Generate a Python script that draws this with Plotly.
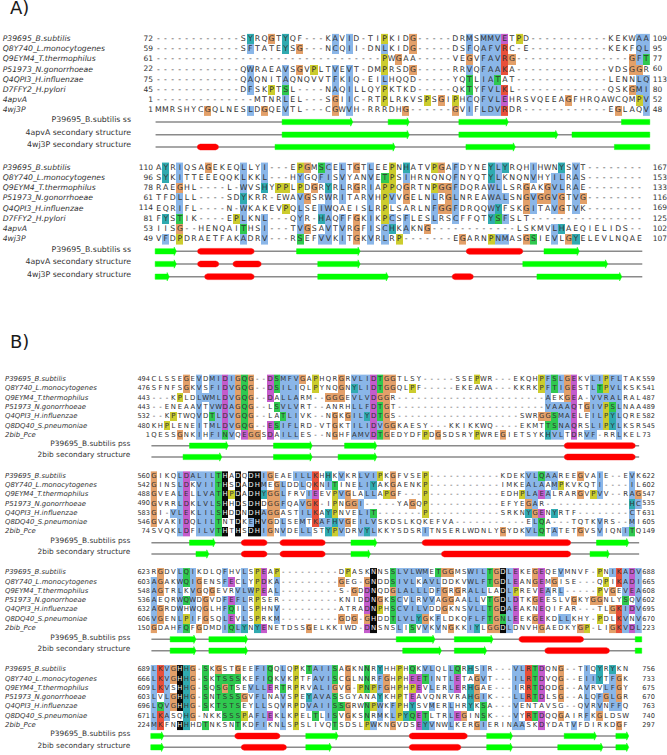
import re
import numpy as np
import plotly.graph_objects as go

G = "-"
NAMES_A = ["P39695_B.subtilis", "Q8Y740_L.monocytogenes", "Q9EYM4_T.thermophilus", "P51973_N.gonorrhoeae",
           "Q4QPI3_H.influenzae", "D7FFY2_H.pylori", "4apvA", "4wj3P"]
NAMES_B = ["P39695_B.subtilis", "Q8Y740_L.monocytogenes", "Q9EYM4_T.thermophilus", "P51973_N.gonorrhoeae",
           "Q4QPI3_H.influenzae", "Q8DQ40_S.pneumoniae", "2bib_Pce"]
SS_NAMES_A = ["P39695_B.subtilis ss", "4apvA secondary structure", "4wj3P secondary structure"]
SS_NAMES_B = ["P39695_B.subtilis pss", "2bib secondary structure"]

# ---------- aligned sequences ----------
A1_SEQ = [
    G*12 + "SYRQGTYQF---KAVID-TIPKIDG-----DRMSMMVETPD" + G*11 + "KEKWAA",
    G*12 + "SFTATEYSG---NCQII-DNLKIDG-----DSFQAFVRC-E" + G*11 + "KEKFQL",
    G*32 + "PWGAA-----VEGVFAVRG" + G*16 + "GFT",
    G*12 + "QWRAEAVSGVPLTVEVT-DMPRSDG-----RRVQFAAKA" + G*13 + "VDSGGR",
    G*12 + "QAQNITAQNQVVTFKIQ-EILHQQD-----YQTLIATAT" + G*13 + "LENNLQ",
    G*12 + "DFSKPTSL----NAQILLQYPKTKD-----QKTYFVLKL" + G*13 + "QSKGMI",
    G*14 + "MTNRLEL---SGIIC-RTPLRKVSPSGIPHCQFVLEHRSVQEEAGFHRQAWCQMPV",
    "MMRSHYCGQLNESLDGQEVTL---CGWVH-RRRDHG------GVIFLDVRDR" + G*12 + "EGLAQV",
]
A2_SEQ = [
    "AYRIQSAGEKEQLLYI---EPGMSCELTGTLEEPNHATVPGAFDYNEYLYRQHIHWNYSVT" + G*8,
    "SYKITTEEEQQKLKKL---HYGQFISVYANVETPSIHRNQNQFNYQTYLKNQNVHYILRAS" + G*8,
    "RAEGHL----L-WVSHYPPLPDGRYRLRGRIAPPQGRTNPGGFDQRAWLLSRGAKGVLRAE" + G*8,
    "TFDLLL----SDYKRR-EWAVGSRWRITARVHPVVGELNLRGLNREAWALSNGVGGVGTVG" + G*8,
    "EQRIFL----N-WKAKEVPQLSEIWQAEISLRPLSARLNFGGFDRQQWYFSKGITAVGTVK" + G*8,
    "FYSTIK----EPLKNL---QYR-HAQFFGKIKPCSFLESLRSCFFQTYSFSLT" + G*16,
    "IISG--HENQAITHSI---TVGSAVTVRGFISCHKAKNG" + G*12 + "LSKMVLHAEQIELIDS--",
    "VFDPDRAETFAKADRV---RSEFVVKITGKVRLRP-------EGARNPNMASGSIEVLGYELEVLNQAE",
]
B1_SEQ = [
    "CLSSEGEVDMIDIGQG--DSMFVGAPHQRGRVLIDTGGTLSY-----SSEPWR---EKQHPFSLGEKVLIPFLTAK",
    "SFNFSGKVSFIDVGQG--DSILIQLPYNQGNYLIDTGGQLPF-----EKEAWA---KKRKPFTIGESTLTPVLKSK",
    "---KPLDLWMLDVGQG--DALLARM--GGGEVLVDGGR" + G*23 + "AEKGEA-VVRALRAL",
    "--ENEAAVTVWDAGQG--LSVLVRT--ANRHLLFDTGT" + G*23 + "VAAAQTGIVPSLNAA",
    "--KPTWQVDTLDVGQG--LATLIVK--NGKGILYDTGS" + G*19 + "SWRGGSMAELEILPYLQRE",
    "KHPLENEITMLDVGQG--ESIFLRD-VTGKTILIDVGGKAESY---KKIKKWQ----EKMTTSNAQRSLIPYLKSR",
    "QESSGNKIHFINVQEGGSDAILLES--NGHFAMVDTGEDYDFPDGSDSRYPWREGIETSYKHVLTDRVF-RRLKEL",
]
B2_SEQ = [
    "GIKQLDALILTHADQDHIGEAEILLKHHKVKRLVIPKGFVSEP" + G*11 + "KDEKVLQAAREEGVAIE--EVK",
    "GINSLDKVIITHSDADHMEGLDDLQKNITINELIYAKGAENKP" + G*11 + "IMKEALAAMPKVKQTI----IL",
    "GVEALELLVATHPDADHYGGLFRVIEEVPVGLALLAPGF---P" + G*11 + "EDHPLAEALRARGVPVV--RAG",
    "GVRRLDKLVLSHHDSDHDGGFQAVGK-IPNGGI-----YAGQP" + G*11 + "EFYEGAR" + G*13 + "HC",
    "GI-VLEKLILSHDDNDHAGGASTILKAYPNVELIT-------P" + G*11 + "SRKNYGENYRTF" + G*8 + "CT",
    "GVAKIDQLILTNTDKEHVGDLSEMTKAFHVGEILVSKDSLKQKEFVA" + G*11 + "ELQA---TQTKVRS--MI",
    "SVQKLDFILVTHTHSDHIGNVDELLSTYPVDRVYLKKYSDSRITNSERLWDNLYGYDKVLQTATETGVSVIQNITQ",
]
B3_SEQ = [
    "RGDVLQIKDLQFHVLSPEAP" + G*9 + "DPASKNNSSLVLWMETGGMSWILTGDLEKEGEQEVMNVF-PNIKADV",
    "AGAKWQIGENSFECLYPDKA" + G*9 + "GEG-GNDDSIVLKAVLDDKVWLFTGDLEANGEMGISE---QPIKADI",
    "AGTRLKVGQGEVRVLWPEAL" + G*9 + "S-GDDNQDGLALLLDFGRGRALLLADLPREVEARL-----PVGEVEA",
    "AEQRWQWDGVDFEFLRPSER" + G*9 + "KNIDDNGKSCVLRVVAGGAALLVTGDLDTKGEESLVGKYGGNLYSQV",
    "AGRDWHWQGLHFQILSPHNV" + G*9 + "ATRADNPHSCVILVDDGKNSVLLTGDAEAKNEQIFAR---TLGKIDV",
    "VGENLPIFGSQLEVLSPRKM" + G*9 + "GDG-GHDDTLVLYGKFLDKQFLFTGNLEEKGEKDLLKHY-PDLKVNV",
    "GDAHFQFGDMDIQLYNYENETDSSGELKKIWD-DNSNSLISVVKVNGKKIYLGGDLDNVHGAEDKYGP-LIGKVDL",
]
B4_SEQ = [
    "LKVGHHG-SKGSTGEEFIQQLQPKTAIISAGKNNRYHHPHQKVLQLLQRHSIR---VLRTDQNG--TIQYRYKN",
    "LKVGHHG-SKTSSSKEFIQKVKPTFAVISCGLNNRFGHPHEETINTLETAGVT---ILRTDVQG--EIIYTFGK",
    "LKVSHHG-SQSGTSEVLLERTRPRVALIGVG-PNPFGHPHPEVLERLERHGAE---IRRTDQDG--AVRVLFGY",
    "LVLGHHG-SNTSSSGVFLNAVSPEYAVASSGYANAYKHPTEAVQNRVRAHGIK---LLRTDLSG--ALQFGLGR",
    "LQVGHHG-SKTSTSEYLLSQVRPDVAIISSGRWNPWKFPHYSVMERLHRYKSA---VENTAVSG--QVRVNFFQ",
    "LKASQHG-NKKSSSPAFLEKLKPELTLISVGKSNRMKLPYQETLTRLEGINSK---VYRTDQQGAIRFKGLDSW",
    "MKFNHHHDTNKSNTKDFIKNLSPSLIVQTSDSLPWKNGVDSEYVNWLKERGIERINAASKDYDATVFDIRKDGF",
]

# ---------- residue numbers ----------
A1_START = [72, 59, 61, 22, 75, 45, 1, 1];          A1_END = [109, 95, 77, 60, 113, 80, 52, 48]
A2_START = [110, 96, 78, 61, 114, 81, 53, 49];      A2_END = [167, 153, 133, 116, 169, 125, 102, 107]
B1_START = [494, 476, 443, 443, 532, 480, 1];       B1_END = [559, 541, 487, 489, 582, 545, 73]
B2_START = [560, 542, 488, 490, 583, 546, 74];      B2_END = [622, 602, 547, 535, 631, 605, 149]
B3_START = [623, 603, 548, 536, 632, 606, 150];     B3_END = [688, 665, 608, 602, 695, 670, 223]
B4_START = [689, 666, 609, 603, 696, 671, 224];     B4_END = [756, 733, 675, 670, 763, 740, 297]

# ---------- conservation class of residues, by alignment column ----------
A1_CLASS = [
    "c13 o16 c18 b25 b27 y32 o36 b44 b46-48 m49 y51 b68-69",
    "b13 c18 o20 b25 b27 b32 o36 b44 b46-48 r49 b68-69",
    "y32 o34 o44 b46-48 r49 o50 o67 b68 g69",
    "b13 b18 o20 y22 b25 b27 y32 o36 b44 b46-48 r49 o67-68",
    "b13 b18 b25 b27 b32 g44 b46-47 g48 b68-69",
    "b13 y16 g18 b25 b27 y32 g44 b46-48 r49 o67 b68-69",
    "b18 o25 b27 y32 y38 o40 y42 b44 b46-48 m49 o58 y68 b69",
    "o7 b13 o15 b18 o25 b27 o35 o42 b44 b46-48 r49 o65 b69",
]
A2_CLASS = [
    "c1 b3 o7 b12 b15 y20 o21 g23 b24 b26 o28 b30 y33 c35 y39 o40 b42 c47 b48 c49 b53 c57 b59",
    "c1 b3 b12 b15 b20 b23-24 b26 b30 g32 y33 b35 b42 c47 b48 b53 b56-57 b59",
    "o3 b12 c15 y17-18 y20 o22 c24 b26 o28 b30 y32-33 o35 y39 o40-41 b42 b47-48 o52 o55 b56-57 b59",
    "b3 c12 b20 o21 b24 b26 b30 y32 b33 o35 b39 o41 b42 b47-49 o52 b53 o54-55 b56 o57 b59 o60",
    "b3 b12 y18 b20 b23-24 b30 y32 b39 o40-41 b42 b47 c48 o52 b53 b56 o57 b59",
    "c1 g3 y11 b12 b15 b20 c23 b24 b26 o28 b30 y32 b33 b35 b39 b42 c47 g48 b49",
    "o3 g12 b15 b20 o21 b24 b26 o28 b30 b32 c33 b35 o38 b56 c57",
    "b1 y3 b12 b15 g20 b23-24 b26 o28 b30 b32 y34 o43 y47 b48-49 o52 g53 b56 o58 c59",
]
B1_CLASS = [
    "o5 b7 b9-10 m11 b12 o13 g14 o15 m18 g19 b20-22 o23 y25 o29 b31-33 m34 g35 o36-37 y50 y60 b61 g62 b63 o64 m65 b68-69 y70 b71-72",
    "o5 b7 b9-10 m11 b12 o13 g14 o15 m18 g19 b20-22 y25 o29 c31 b32-33 m34 g35 o36-37 y40 y60 b61 g62 b63 o64 m65 b68 g69 y70 b71-72",
    "y4 b7-10 m11 b12 o13 g14 o15 m18 b20-22 o27-29 b31-33 m34 o35-36 b61 o64 m65 b68-72",
    "b7 b9-10 m11 b12 o13 g14 o15 g19 b20-22 b31-33 m34 g35 o36 b61-64 m65 o67 b68-69 y70 g71 b72",
    "y3 b7 g9 b10 m11 b12 o13 g14 o15 g20 b21-22 o28 o30 b31-32 c33 m34 g35 o36 o60-61 g62 b63-64 m65 b68-69 y70 c71 b72",
    "y2 b7 b9-10 m11 b12 o13 g14 o15 m18 g19 b20-22 o28 b31-33 m34 b35 o36-37 g61-62 b63-64 m65 b68-69 y70 c71 b72",
    "o4 b7 b9-10 g11 b12 m14 o15-16 m18 b20-22 o28 b31-33 m34 g35 o36 y42 o44 y50 o54 c61 b62-63 m65 b67-68 b72",
]
B2_CLASS = [
    "o0 b4 m5 b6-9 g10 k11 k13 k15-16 b17 o18 b22-24 r25 c27 b29 b32-34 y35 o37 y42 b58-59 g60 b61-62 o66 b69 b74",
    "o0 b4 m5 b7-9 g10 k11 k13 k15-16 b17 o19 b20 b23 r25 b27 g28 b32-33 c34 o37 y42 b58-59 b60 b62 y63 b69 b74",
    "o0 b4 m5 b7-9 g10 k11 y12 k13 k15-16 c17 o18-19 b20 b24 m25 y28 b29 o30 b33-34 y36 o37 y42 y57 b58-59 m60 b61 o66 y68 b69 b74 o75",
    "o0 b4 m5 b7-9 g10 k11 k13 k15-16 o18-19 b20 b23 o24 r25 y28 o30-31 b32 o40 y42 o58 b59 c74 b75",
    "o0 b3-4 m5 b7-9 g10 k11 k13 k15-16 b17 o18-19 b23-24 r25 c27 y28 b32-33 g34 y42 c58 o59 m60 c62 b74",
    "o0 b4 m5 b7-9 g10 k13 b15 k16 b17 o18 b20 b23 r25 b26-27 c28 b29 o30 b32-34 b59 g60 b69 b74",
    "b4 m5 b7-9 g10 k11 k13 k15-16 b17 o18 b20 b23-24 c27 y28 b29 b32 c33 b34 b42 o54 b58-59 g60 b62 o66 b69 b73 g74",
]
B3_CLASS = [
    "o1 b4 g5 b6 b11 b14 y16 m17 y19 y30 k34 g37 b38-42 g44 o45-46 b49-51 g52 o53 k54 b55 m56 o59 m60 b63 y69 b71 r72 b73 m74 b75",
    "b0 o1 b4 g5 b6 o7 b11 m12 b14 y16 m17 b19 o29 o33 k34 g37 b38-40 b42-44 b49-51 g52 o53 k54 b55 m56 o59 m60 o62 y70 r72 b73 m74 b75",
    "b0 o1 b4 b6 o7 o9 b13-15 y16 m17 b19 o31 m33 k34 o37 b38-42 b44 o45 o47 b49-51 k54 b55 y56 m60 b61 b63 y69 o71 b73 m74 b75",
    "b0 b4 g5 b6 o8 b11 m12 b13-14 y16 m33 k34 o35 g37 b38 b40 b42-43 o45-46 b49-50 g52 o53 k54 b55 m56 o59 m60 o65 o68-69 g73 b75",
    "b0 o1 b4 b6 o8 b11 g12 b14 y16 b19 m33 k34 y35 g37 b38-42 o45 b49-51 g52 o53 k54 b55 m56 m60 o71 r72 b73 m74 b75",
    "b0 o1 b4 y5 b6 o8 b11 m12 b14 y16 b19 o29 o31 o33 k34 g37 b38-40 c41 o42 b44 b49-51 g52 o53 g54 b55 m56 o59 m60 b63-64 y69 r72 b73 b75",
    "o0 b4 g5 o7 b11 g12 b13 c14 c16 m17 o24 m33 k34 b38 g40 b42 b44 o46 b49 c50 o52-53 k54 b55 o60 o66 y67 o71 r72 b73 m74 b75",
]
B4_CLASS = [
    "b0 r1 b2 o3 k4 c5 o6 g8 o10 o13 b16-17 g18 b20 y22 g24 b25-27 g28 o30 g33 c35 y38 g40 b42-43 b46 g47 c49 b51 b56-57 r58 g59 m60 o63 b67 c69 c71",
    "b0 r1 b2 o3 k4 c5 o6 g8 g10-13 b16-17 g18 b20 y22 b25-27 g28 o30 g33 b35 o36 y38 m40-41 g42 b43 b46 m47 o50 b51 b56-57 r58 g59 m60 o63 b67-68 c69 b71 o72",
    "b0 r1 b2 k4 c5 o6 g8 g10 o11 g12 b15-17 m18 g20 y22 b25-27 o28 o30 y32 g33 y34 b35 o36 y38 y40 m41 b43 b46 m47 c49 o50 b56 r58 g59 m60 o63 b67 b70-71 o72",
    "b0 b2 o3 k4 c5 o6 g8 g10-13 o14 b16-17 b20 y22 c24 b25-27 g28 c35 y38 m40 c49 o50 b51 b56-57 r58 g59 m60 o63 b67 b69 o70 b71 o72",
    "b0 g1 b2 o3 k4 c5 o6 g8 g10-13 b16-17 b20 y22 b24-27 g28-29 o30 g33 y34 b35 b37 y38 c40 b43 b46 c49 g51 b56 b67 b69 b71-72",
    "b0 r1 b2 c5 o6 g11-13 y14 b16-17 m18 b20 y22 g25 b27 g28 o30 g33 b35 b37 y38 c39 g40 m41 g42 b46 m47 o48 g51 b56 r58 g59 m60 o63 b67 o69",
    "b0 r1 k4 c5 g8 g13 b16-17 b20 y22 g28 y33 b34 o37 m41 c42 b43 b46 o50 b51 b56-57 m60 b65 o72",
]

# ---------- secondary-structure elements (E strand, H helix, > arrow head), by alignment column ----------
A1_SS = ["E18-27> E33-35> E43-49> E66-69", "E18-35> E43-56> E59-69", "H6-8 E17-33> E44-50> E65-69"]
A2_SS = ["E0-2> H6-13 E20-28> H44-51 E55-59>", "E0-2> H6-8 H11-14 E23-28> E52-63>", "E0-1> H7-13 E23-32> H42-44 E54-65>"]
B1_SS = ["E6-11> E19-24> E30-34> H64-74", "E5-10> E19-24> E29-34> H64-74"]
B2_SS = ["E6-9> H14-17 H20-26 E31-34> H42-64 E69-73>", "E7-8> H14-17 H20-26 E31-33> H45-64 E68-70>"]
B3_SS = ["E3-6> E9-14> E38-43> E47-52> H57-66 E75-75", "E3-6> E9-14> E39-44> E47-51> H61-70 E75-75"]
B4_SS = ["E0-1> H13-19 E24-28> H40-48 E52-55> E64-68> E72-73>", "E0-1> H14-20 E24-27> H40-47 E52-55> E63-69> E72-73>"]

# ---------- page geometry ----------
BLOCKS = [
    dict(seq=A1_SEQ, cls=A1_CLASS, start=A1_START, end=A1_END, ss=A1_SS, names=NAMES_A, ssn=SS_NAMES_A, x0=158.4, dx=7.07,
         y0=39.0, dy=10.2, ssy=[122, 134.7, 147], sslab=131, lend=153, numx=652.7, namex=2.7, fs=7.8, nfs=7.7, ssfs=7.8, lineend=69.5),
    dict(seq=A2_SEQ, cls=A2_CLASS, start=A2_START, end=A2_END, ss=A2_SS, names=NAMES_A, ssn=SS_NAMES_A, x0=158.7, dx=7.07,
         y0=167.7, dy=10.23, ssy=[251.3, 264, 276.7], sslab=131, lend=153, numx=652.7, namex=2.7, fs=7.8, nfs=7.7, ssfs=7.8, lineend=68.4),
    dict(seq=B1_SEQ, cls=B1_CLASS, start=B1_START, end=B1_END, ss=B1_SS, names=NAMES_B, ssn=SS_NAMES_B, x0=154.0, dx=6.46,
         y0=379.3, dy=9.33, ssy=[445.7, 457], sslab=130.3, lend=150, numx=642.3, namex=5, fs=6.9, nfs=6.9, ssfs=7.4, lineend=75.1),
    dict(seq=B2_SEQ, cls=B2_CLASS, start=B2_START, end=B2_END, ss=B2_SS, names=NAMES_B, ssn=SS_NAMES_B, x0=154.0, dx=6.46,
         y0=476.0, dy=9.28, ssy=[542.7, 554], sslab=130.3, lend=150, numx=642.3, namex=5, fs=6.9, nfs=6.9, ssfs=7.4, lineend=75.1),
    dict(seq=B3_SEQ, cls=B3_CLASS, start=B3_START, end=B3_END, ss=B3_SS, names=NAMES_B, ssn=SS_NAMES_B, x0=154.0, dx=6.46,
         y0=572.7, dy=9.27, ssy=[639.3, 650.7], sslab=130.3, lend=150, numx=642.3, namex=5, fs=6.9, nfs=6.9, ssfs=7.4, lineend=75.1),
    dict(seq=B4_SEQ, cls=B4_CLASS, start=B4_START, end=B4_END, ss=B4_SS, names=NAMES_B, ssn=SS_NAMES_B, x0=154.0, dx=6.46,
         y0=669.7, dy=9.27, ssy=[736, 747.3], sslab=130.3, lend=150, numx=642.3, namex=5, fs=6.9, nfs=6.9, ssfs=7.4, lineend=73.1),
]
CLASS_ORDER = "bogycmrk"
CLASS_COLORS = ["#8ab6e8", "#e3a069", "#2fc84f", "#cccc2e", "#30aab0", "#c45ccc", "#e8503a", "#0a0a0a"]
TEXT = "#333333"
STRAND = "#00ff00"
HELIX = "#ff0000"


def classes(spec, width):
    row = [None] * width
    for tok in spec.split():
        m = re.fullmatch(r"([a-z])(\d+)(?:-(\d+))?", tok)
        a = int(m[2])
        b = int(m[3]) if m[3] else a
        for c in range(a, b + 1):
            row[c] = CLASS_ORDER.index(m[1])
    return row


def hex_scale():
    n = len(CLASS_COLORS)
    out = []
    for i, col in enumerate(CLASS_COLORS):
        out += [[i / n, col], [(i + 1) / n, col]]
    return out


fig = go.Figure()
line_x, line_y = [], []
str_x, str_y = [], []
hel_x, hel_y = [], []

for blk in BLOCKS:
    width = max(len(s) for s in blk["seq"])
    for s in blk["seq"]:
        assert len(s) == width, (s, len(s), width)
    assert len(blk["seq"]) == len(blk["start"]) == len(blk["end"]) == len(blk["cls"]) == len(blk["names"])
    rows = len(blk["seq"])
    z = [classes(spec, width) for spec in blk["cls"]]
    x0, dx, y0, dy = blk["x0"], blk["dx"], blk["y0"], blk["dy"]
    fig.add_trace(go.Heatmap(z=z, x0=x0, dx=dx, y0=y0, dy=dy, zmin=0, zmax=len(CLASS_COLORS),
                             colorscale=hex_scale(), showscale=False, hoverinfo="skip"))
    xs, ys, tx, cols = [], [], [], []
    for r, s in enumerate(blk["seq"]):
        for c, ch in enumerate(s):
            xs.append(x0 + c * dx)
            ys.append(y0 + r * dy)
            tx.append(ch)
            cols.append("#f4f4f4" if z[r][c] == CLASS_ORDER.index("k") else TEXT)
    fig.add_trace(go.Scatter(x=xs, y=ys, text=tx, mode="text", textposition="middle center",
                             textfont=dict(family="DejaVu Sans", size=blk["fs"], color=cols), hoverinfo="skip"))
    ry = [y0 + r * dy for r in range(rows)]
    fig.add_trace(go.Scatter(x=[blk["namex"]] * rows, y=ry, text=blk["names"], mode="text", textposition="middle right",
                             textfont=dict(family="DejaVu Sans", style="italic", size=blk["nfs"], color=TEXT), hoverinfo="skip"))
    fig.add_trace(go.Scatter(x=[blk["lend"]] * rows, y=ry, text=[str(v) for v in blk["start"]], mode="text",
                             textposition="middle left", textfont=dict(family="DejaVu Sans", size=blk["fs"] - 0.3, color=TEXT), hoverinfo="skip"))
    fig.add_trace(go.Scatter(x=[blk["numx"]] * rows, y=ry, text=[str(v) for v in blk["end"]], mode="text",
                             textposition="middle right", textfont=dict(family="DejaVu Sans", size=blk["fs"] - 0.3, color=TEXT), hoverinfo="skip"))
    fig.add_trace(go.Scatter(x=[blk["sslab"]] * len(blk["ssn"]), y=[v - 1.5 for v in blk["ssy"]], text=blk["ssn"], mode="text",
                             textposition="middle left", textfont=dict(family="DejaVu Sans", size=blk["ssfs"], color="#333333"), hoverinfo="skip"))
    for spec, yc in zip(blk["ss"], blk["ssy"]):
        line_x += [x0 - 0.4 * dx, x0 + blk["lineend"] * dx, None]
        line_y += [yc, yc, None]
        for tok in spec.split():
            m = re.fullmatch(r"([EH])(\d+)-(\d+)(>?)", tok)
            xa = x0 + (int(m[2]) - 0.5) * dx
            xb = x0 + (int(m[3]) + 0.5) * dx
            if m[1] == "H":
                t = np.linspace(-np.pi / 2, np.pi / 2, 9)
                rad = 2.9
                px = list(xb - rad + rad * np.cos(t)) + list(xa + rad - rad * np.cos(t))
                py = list(yc + rad * np.sin(t)) + list(yc - rad * np.sin(t))
                hel_x += px + [px[0], None]
                hel_y += py + [py[0], None]
            else:
                h = 2.6
                if m[4]:
                    hd = min(2.2, xb - xa)
                    px = [xa, xb - hd, xb - hd, xb, xb - hd, xb - hd, xa, xa]
                    py = [yc - h, yc - h, yc - 4.2, yc, yc + 4.2, yc + h, yc + h, yc - h]
                else:
                    px = [xa, xb, xb, xa, xa]
                    py = [yc - h, yc - h, yc + h, yc + h, yc - h]
                str_x += px + [None]
                str_y += py + [None]

fig.add_trace(go.Scatter(x=line_x, y=line_y, mode="lines", line=dict(color="#8a8a8a", width=1.5), hoverinfo="skip"))
fig.add_trace(go.Scatter(x=str_x, y=str_y, mode="lines", fill="toself", fillcolor=STRAND, line=dict(color=STRAND, width=0.5), hoverinfo="skip"))
fig.add_trace(go.Scatter(x=hel_x, y=hel_y, mode="lines", fill="toself", fillcolor=HELIX, line=dict(color=HELIX, width=0.5), hoverinfo="skip"))
fig.add_trace(go.Scatter(x=[10, 10], y=[9.5, 343], text=["A)", "B)"], mode="text", textposition="middle right",
                         textfont=dict(family="DejaVu Sans", size=18, color="#1a1a1a"), hoverinfo="skip"))

fig.update_layout(width=667, height=755, margin=dict(l=0, r=0, t=0, b=0), showlegend=False,
                  paper_bgcolor="white", plot_bgcolor="white",
                  xaxis=dict(range=[0, 667], visible=False, fixedrange=True),
                  yaxis=dict(range=[755, 0], visible=False, fixedrange=True))
fig.write_html("out.html", config={"displayModeBar": False},
               post_script="document.body.style.margin='0';document.documentElement.style.overflow='hidden';")
